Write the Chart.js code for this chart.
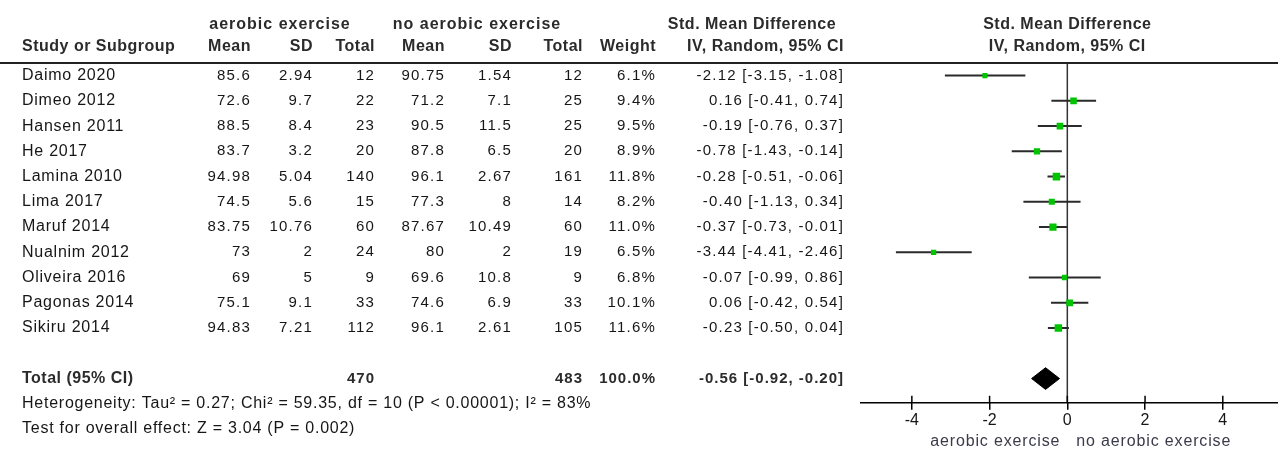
<!DOCTYPE html>
<html>
<head>
<meta charset="utf-8">
<script src="https://cdn.jsdelivr.net/npm/chart.js@4.4.1/dist/chart.umd.min.js"></script>
<style>
  html, body { margin: 0; padding: 0; background: #fff; }
  #forest { display: block; }
</style>
</head>
<body>
<canvas id="forest" width="1278" height="450"></canvas>
<script>
const studies = ['Daimo 2020', 'Dimeo 2012', 'Hansen 2011', 'He 2017', 'Lamina 2010', 'Lima 2017',
  'Maruf 2014', 'Nualnim 2012', 'Oliveira 2016', 'Pagonas 2014', 'Sikiru 2014'];
const expMean = [85.6, 72.6, 88.5, 83.7, 94.98, 74.5, 83.75, 73, 69, 75.1, 94.83];
const expSD = [2.94, 9.7, 8.4, 3.2, 5.04, 5.6, 10.76, 2, 5, 9.1, 7.21];
const expTotal = [12, 22, 23, 20, 140, 15, 60, 24, 9, 33, 112];
const ctrlMean = [90.75, 71.2, 90.5, 87.8, 96.1, 77.3, 87.67, 80, 69.6, 74.6, 96.1];
const ctrlSD = [1.54, 7.1, 11.5, 6.5, 2.67, 8, 10.49, 2, 10.8, 6.9, 2.61];
const ctrlTotal = [12, 25, 25, 20, 161, 14, 60, 19, 9, 33, 105];
const weight = [6.1, 9.4, 9.5, 8.9, 11.8, 8.2, 11.0, 6.5, 6.8, 10.1, 11.6];
const smd = [-2.12, 0.16, -0.19, -0.78, -0.28, -0.40, -0.37, -3.44, -0.07, 0.06, -0.23];
const ciLow = [-3.15, -0.41, -0.76, -1.43, -0.51, -1.13, -0.73, -4.41, -0.99, -0.42, -0.50];
const ciHigh = [-1.08, 0.74, 0.37, -0.14, -0.06, 0.34, -0.01, -2.46, 0.86, 0.54, 0.04];
const totalEffect = [-0.56, -0.92, -0.20]; // estimate, low, high
const totalN = [470, 483];
const xTicks = [-4, -2, 0, 2, 4];

const FONT = '"Liberation Sans", Arial, sans-serif';
const totalRow = studies.length + 1;

// CI whiskers, one line per study
const ciSets = studies.map((s, i) => ({
  type: 'line',
  data: [{ x: ciLow[i], y: i }, { x: ciHigh[i], y: i }],
  borderColor: '#2a2a2a',
  borderWidth: 2,
  pointRadius: 0,
  order: 2
}));

const squares = {
  type: 'scatter',
  data: smd.map((v, i) => ({ x: v, y: i })),
  pointStyle: 'rect',
  pointRadius: weight.map(w => 1.8 + w * 0.3),
  backgroundColor: '#00c400',
  borderWidth: 0,
  order: 1
};

const diamond = {
  type: 'line',
  data: [
    { x: totalEffect[1], y: totalRow },
    { x: totalEffect[0], y: totalRow - 0.43 },
    { x: totalEffect[2], y: totalRow },
    { x: totalEffect[0], y: totalRow + 0.43 },
    { x: totalEffect[1], y: totalRow }
  ],
  borderColor: '#000',
  borderWidth: 1,
  backgroundColor: '#000',
  fill: 'shape',
  pointRadius: 0,
  tension: 0,
  order: 1
};

function fmt2(v) { return v.toFixed(2); }
function ciText(e, lo, hi) { return fmt2(e) + ' [' + fmt2(lo) + ', ' + fmt2(hi) + ']'; }

// text styles: [size, bold, letterSpacing]
const ST = {
  head: [16, true, 0.5],
  group: [16, true, 1.0],
  name: [16, false, 0.75],
  num: [15, false, 1.2],
  numB: [15, true, 1.0]
};

const tablePlugin = {
  id: 'forestTable',
  beforeDatasetsDraw(chart) {
    const { ctx, chartArea, scales } = chart;
    const x0 = scales.x.getPixelForValue(0);
    ctx.save();
    ctx.strokeStyle = '#333';
    ctx.lineWidth = 1.5;
    ctx.beginPath();
    ctx.moveTo(x0, chartArea.top);
    ctx.lineTo(x0, chartArea.bottom);
    ctx.stroke();
    ctx.restore();
  },
  afterDraw(chart) {
    const { ctx, chartArea, scales } = chart;
    const y = scales.y;
    const xs = scales.x;
    const top = chartArea.top;

    function txt(s, x, yy, align, st, color) {
      ctx.font = (st[1] ? 'bold ' : '') + st[0] + 'px ' + FONT;
      ctx.fillStyle = color || (st[1] ? '#2b2b2b' : '#161616');
      ctx.textAlign = align;
      ctx.textBaseline = 'middle';
      ctx.letterSpacing = st[2] + 'px';
      ctx.fillText(s, x, yy);
    }

    ctx.save();
    // header rule across the full width
    ctx.strokeStyle = '#222';
    ctx.lineWidth = 2;
    ctx.beginPath();
    ctx.moveTo(0, top);
    ctx.lineTo(chart.width, top);
    ctx.stroke();

    // headers
    const h1 = top - 38, h2 = top - 16;
    const x0 = xs.getPixelForValue(0);
    txt('aerobic exercise', 280, h1, 'center', ST.group);
    txt('no aerobic exercise', 477, h1, 'center', ST.group);
    txt('Std. Mean Difference', 752, h1, 'center', ST.head);
    txt('Std. Mean Difference', x0, h1, 'center', ST.head);
    txt('Study or Subgroup', 22, h2, 'left', ST.head);
    txt('Mean', 251, h2, 'right', ST.head);
    txt('SD', 313, h2, 'right', ST.head);
    txt('Total', 375, h2, 'right', ST.head);
    txt('Mean', 445, h2, 'right', ST.head);
    txt('SD', 512, h2, 'right', ST.head);
    txt('Total', 583, h2, 'right', ST.head);
    txt('Weight', 656, h2, 'right', ST.head);
    txt('IV, Random, 95% CI', 844, h2, 'right', ST.head);
    txt('IV, Random, 95% CI', x0, h2, 'center', ST.head);

    // study rows
    studies.forEach((s, i) => {
      const py = y.getPixelForValue(i);
      txt(s, 22, py, 'left', ST.name);
      txt(String(expMean[i]), 251, py, 'right', ST.num);
      txt(String(expSD[i]), 313, py, 'right', ST.num);
      txt(String(expTotal[i]), 375, py, 'right', ST.num);
      txt(String(ctrlMean[i]), 445, py, 'right', ST.num);
      txt(String(ctrlSD[i]), 512, py, 'right', ST.num);
      txt(String(ctrlTotal[i]), 583, py, 'right', ST.num);
      txt(weight[i].toFixed(1) + '%', 656, py, 'right', ST.num);
      txt(ciText(smd[i], ciLow[i], ciHigh[i]), 844, py, 'right', ST.num);
    });

    // total row
    const ty = y.getPixelForValue(totalRow);
    txt('Total (95% CI)', 22, ty, 'left', ST.head);
    txt(String(totalN[0]), 375, ty, 'right', ST.numB);
    txt(String(totalN[1]), 583, ty, 'right', ST.numB);
    txt('100.0%', 656, ty, 'right', ST.numB);
    txt(ciText(totalEffect[0], totalEffect[1], totalEffect[2]), 844, ty, 'right', ST.numB);

    txt('Heterogeneity: Tau\u00b2 = 0.27; Chi\u00b2 = 59.35, df = 10 (P < 0.00001); I\u00b2 = 83%', 22,
      y.getPixelForValue(totalRow + 1), 'left', ST.name);
    txt('Test for overall effect: Z = 3.04 (P = 0.002)', 22, y.getPixelForValue(totalRow + 2), 'left', ST.name);

    // axis line out to the right edge, tick marks above it
    const ay = chartArea.bottom;
    ctx.strokeStyle = '#000';
    ctx.lineWidth = 1.5;
    ctx.beginPath();
    ctx.moveTo(chartArea.left, ay);
    ctx.lineTo(chart.width, ay);
    ctx.stroke();
    xTicks.forEach(v => {
      const px = xs.getPixelForValue(v);
      ctx.beginPath();
      ctx.moveTo(px, ay - 7);
      ctx.lineTo(px, ay);
      ctx.stroke();
    });

    // favours labels
    txt('aerobic exercise', x0 - 7, 442, 'right', [16, false, 0.85], '#3a3a4a');
    txt('no aerobic exercise', x0 + 9, 442, 'left', [16, false, 0.85], '#3a3a4a');
    ctx.restore();
  }
};

new Chart(document.getElementById('forest'), {
  type: 'scatter',
  data: { datasets: [...ciSets, squares, diamond] },
  options: {
    responsive: false,
    animation: false,
    devicePixelRatio: 1,
    layout: { padding: { left: 860, right: 0, top: 63, bottom: 19 } },
    plugins: { legend: { display: false }, tooltip: { enabled: false } },
    scales: {
      x: {
        type: 'linear',
        min: -5.334,
        max: 5.283,
        afterBuildTicks: scale => { scale.ticks = xTicks.map(v => ({ value: v })); },
        grid: { drawOnChartArea: false, tickLength: 7, color: '#000', lineWidth: 1.5 },
        border: { display: false },
        ticks: { color: '#161616', font: { size: 16, family: FONT }, padding: 1, maxRotation: 0, autoSkip: false }
      },
      y: { type: 'linear', min: -0.5, max: 12.96, reverse: true, display: false }
    }
  },
  plugins: [tablePlugin]
});
</script>
</body>
</html>
